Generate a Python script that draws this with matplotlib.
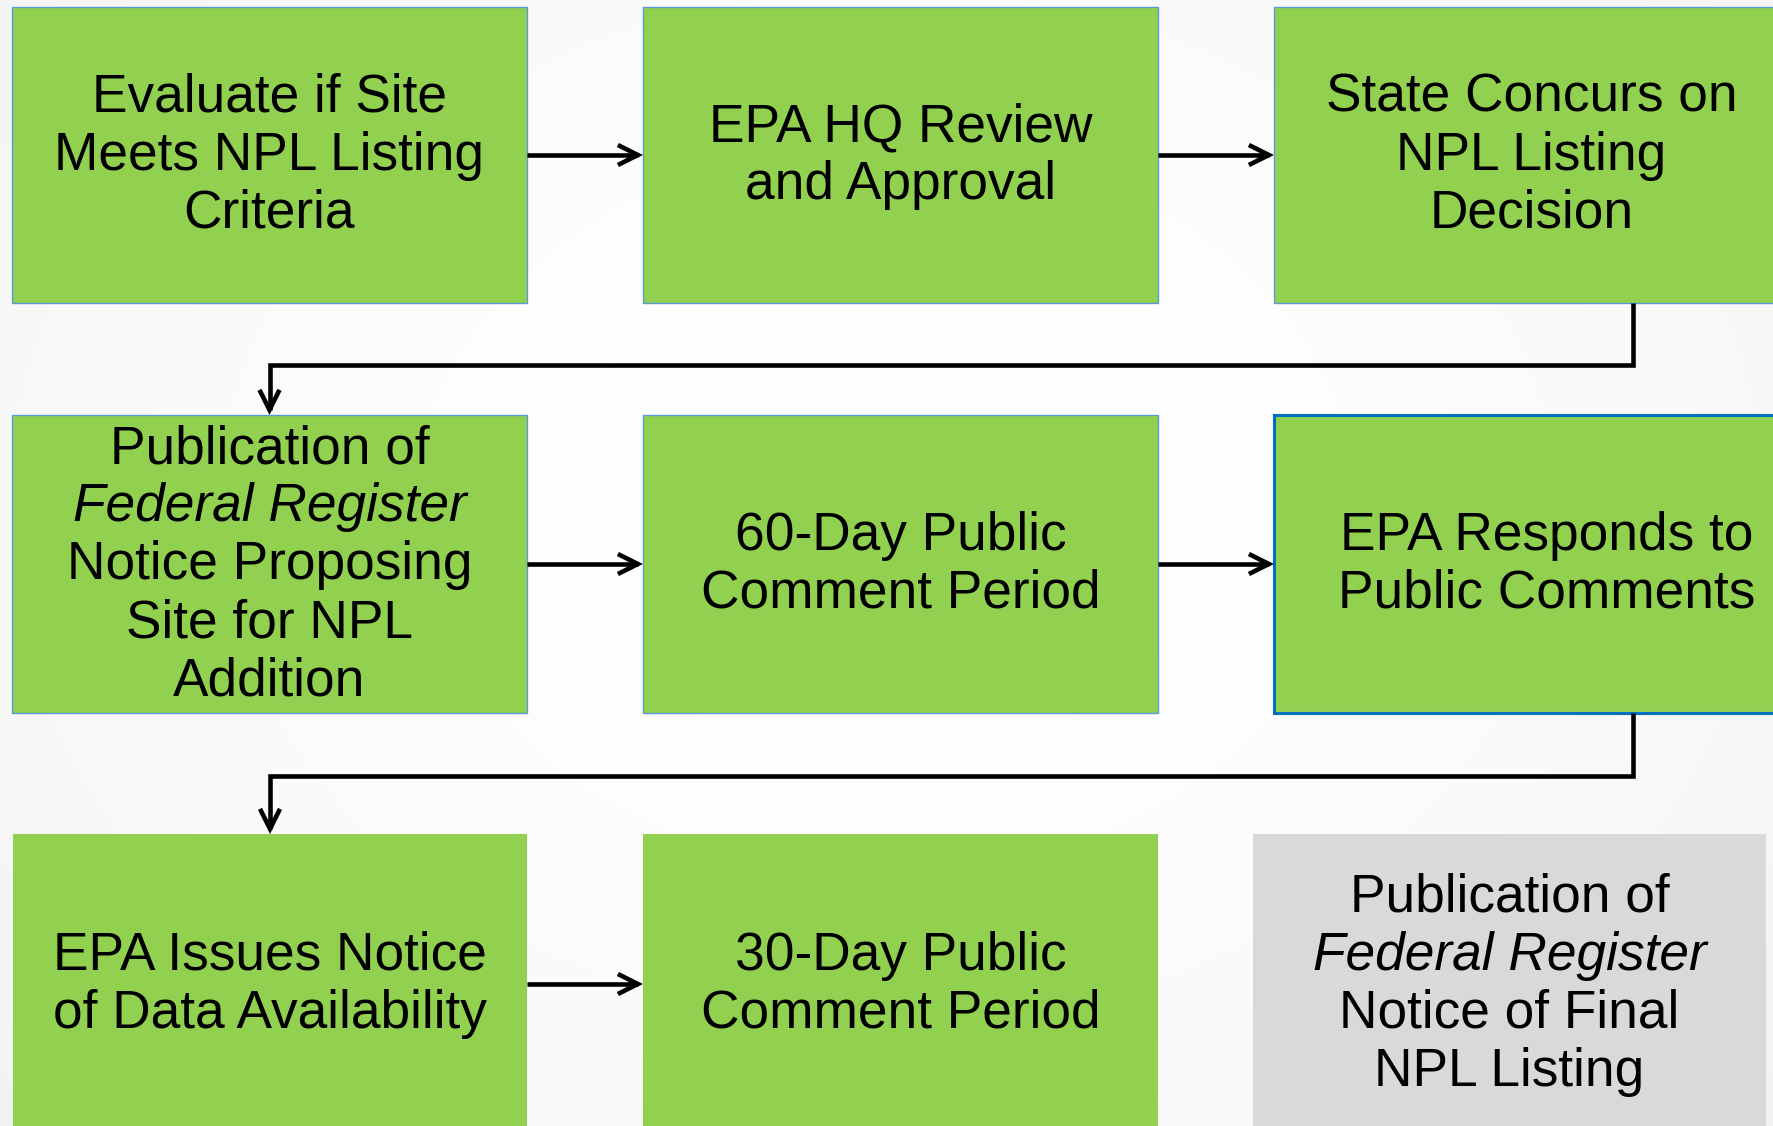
import matplotlib

matplotlib.use("Agg")
import matplotlib.pyplot as plt  # noqa: E402
import numpy as np  # noqa: E402
from matplotlib.patches import FancyArrowPatch, Rectangle  # noqa: E402
from matplotlib.path import Path  # noqa: E402

# step texts, one list of lines per box (reading order)
STEP_LABELS = [
    ["Evaluate if Site", "Meets NPL Listing", "Criteria"],
    ["EPA HQ Review", "and Approval"],
    ["State Concurs on", "NPL Listing", "Decision"],
    ["Publication of", "Federal Register", "Notice Proposing", "Site for NPL", "Addition"],
    ["60-Day Public", "Comment Period"],
    ["EPA Responds to", "Public Comments"],
    ["EPA Issues Notice", "of Data Availability"],
    ["30-Day Public", "Comment Period"],
    ["Publication of", "Federal Register", "Notice of Final", "NPL Listing"],
]
ITALIC_LINES = ["Federal Register"]
STEP_STATUS = ["done"] * 8 + ["final"]
FLOW = [(0, 1), (1, 2), (2, 3), (3, 4), (4, 5), (5, 6), (6, 7)]

# layout in pixels (figure is 1773 x 1126, y grows downward)
W, H = 1773, 1126
BOX_X = [12, 643, 1274, 12, 643, 1274, 13, 643, 1253]
BOX_W = [515, 515, 515, 515, 515, 545, 514, 515, 513]
BOX_Y = [7, 7, 7, 415, 415, 415, 834, 834, 834]
BOX_H = [296, 296, 296, 298, 298, 298, 300, 300, 300]
EDGES = [("#5b9bd5", 1.0)] * 5 + [("#0070c0", 2.2), (None, 0), (None, 0), (None, 0)]
FILLS = {"done": "#92d050", "final": "#d9d9d9"}
BEND_X = 1633
BEND_Y = {2: 365, 5: 776}
LINE_STEP = 58
FONT = "Liberation Sans"
FONT_SIZE = 38.3


def background(ax):
    yy, xx = np.mgrid[0:1:200j, 0:1:300j]
    dist = np.sqrt(((xx - 0.5) / 0.9) ** 2 + ((yy - 0.45) / 1.1) ** 2)
    shade = 1.0 - 0.09 * np.clip(dist, 0, 1) ** 2
    img = np.dstack([shade, shade, shade])
    ax.imshow(img, extent=(0, W, H, 0), aspect="auto", zorder=0, interpolation="bicubic")


def draw_box(ax, i):
    x, y, w, h = BOX_X[i], BOX_Y[i], BOX_W[i], BOX_H[i]
    color, lw = EDGES[i]
    ax.add_patch(Rectangle((x, y), w, h, facecolor=FILLS[STEP_STATUS[i]],
                           edgecolor=color if color else "none", linewidth=lw, zorder=2))
    cx, cy = x + w / 2, y + h / 2
    lines = STEP_LABELS[i]
    n = len(lines)
    for k, line in enumerate(lines):
        base = cy + (k - (n - 1) / 2) * LINE_STEP + 15
        ax.text(cx, base, line, ha="center", va="baseline", family=FONT,
                fontsize=FONT_SIZE, color="black", zorder=3,
                style="italic" if line in ITALIC_LINES else "normal")


def draw_link(ax, a, b):
    if BOX_Y[a] == BOX_Y[b]:
        y = BOX_Y[a] + BOX_H[a] / 2
        verts = [(BOX_X[a] + BOX_W[a], y), (BOX_X[b], y)]
    else:
        bottom = BOX_Y[a] + BOX_H[a]
        top = BOX_Y[b]
        mid = BEND_Y[a]
        cx = BOX_X[b] + BOX_W[b] / 2
        verts = [(BEND_X, bottom), (BEND_X, mid), (cx, mid), (cx, top)]
    codes = [Path.MOVETO] + [Path.LINETO] * (len(verts) - 1)
    arrow = FancyArrowPatch(path=Path(verts, codes), arrowstyle="->",
                            mutation_scale=36, linewidth=3.3, color="black",
                            joinstyle="miter", capstyle="butt", zorder=4)
    ax.add_patch(arrow)


def main():
    fig = plt.figure(figsize=(W / 100, H / 100), dpi=100)
    ax = fig.add_axes([0, 0, 1, 1])
    ax.set_xlim(0, W)
    ax.set_ylim(H, 0)
    ax.axis("off")

    background(ax)
    for i in range(len(STEP_LABELS)):
        draw_box(ax, i)
    for a, b in FLOW:
        draw_link(ax, a, b)

    fig.savefig("out.png", dpi=100)


if __name__ == "__main__":
    main()
